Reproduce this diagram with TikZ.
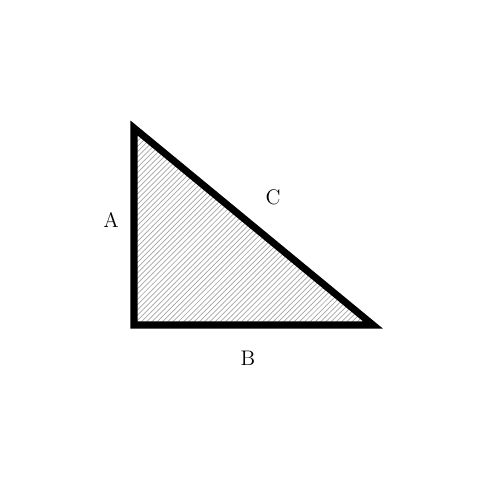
\documentclass[tikz,border=0pt]{standalone}
\usepackage{tikz}
\usetikzlibrary{patterns}

\begin{document}
\begin{tikzpicture}[x=0.02cm,y=-0.02cm,%
% common options for the triangle:
tri/.style = {draw, line width=4pt, line join=miter, pattern=north east lines, pattern color=gray!70},
% common options for the side labels:
side/.style = {rectangle, inner sep=0, font=\large}]
\useasboundingbox (0,0) rectangle (500,500);
\coordinate (P0) at (134,128);
\coordinate (P1) at (134,325);
\coordinate (P2) at (373,325);
\filldraw[tri] (P0) -- (P1) -- (P2) -- cycle;
\node[side] (A) at (111,220) {A};
\node[side] (C) at (273,197) {C};
\node[side] (B) at (248,358) {B};
\end{tikzpicture}
\end{document}
